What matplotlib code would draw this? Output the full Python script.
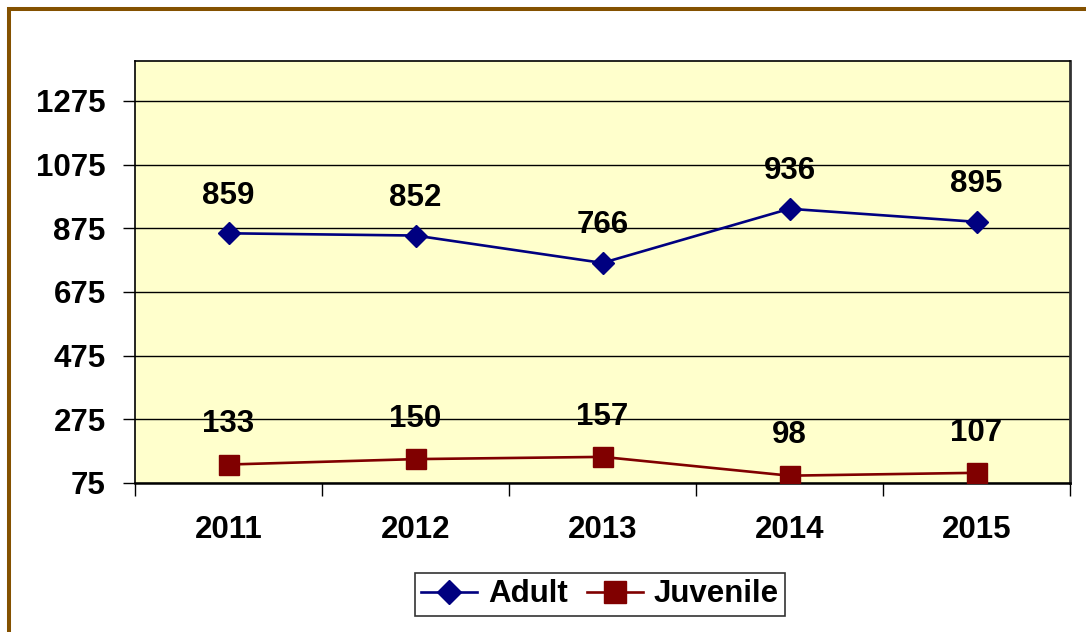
import matplotlib.pyplot as plt
from matplotlib.patches import Rectangle

years = ['2011', '2012', '2013', '2014', '2015']
adult = [859, 852, 766, 936, 895]
juvenile = [133, 150, 157, 98, 107]
yticks = [75, 275, 475, 675, 875, 1075, 1275]

plt.rcParams['font.family'] = ['Liberation Sans', 'DejaVu Sans']
plt.rcParams['font.weight'] = 'bold'

fig = plt.figure(figsize=(10.86, 6.32), dpi=100)
W, H = 1086, 632
fs = 22.5

# brown outer frame (right and bottom are cut off in the original)
fig.patches.append(Rectangle((8.5 / W, -0.5), 2, 1 + 0.5 - 8.5 / H,
                             transform=fig.transFigure, fill=False,
                             edgecolor='#845100', linewidth=2.9))

ax = fig.add_axes([135 / W, 1 - 483 / H, (1070 - 135) / W, (483 - 61) / H])
ax.set_facecolor('#FFFFCC')

x = range(len(years))
ax.plot(x, adult, color='#000080', lw=1.9, marker='D', ms=11,
        label='Adult', zorder=3)
ax.plot(x, juvenile, color='#800000', lw=1.9, marker='s', ms=14,
        label='Juvenile', zorder=3)

for i in x:
    ax.annotate(str(adult[i]), (i, adult[i]), xytext=(0, 27),
                textcoords='offset points', ha='center', va='center',
                fontsize=fs, fontweight='bold', zorder=4)
    ax.annotate(str(juvenile[i]), (i, juvenile[i]), xytext=(0, 29),
                textcoords='offset points', ha='center', va='center',
                fontsize=fs, fontweight='bold', zorder=4)

ax.set_xlim(-0.5, 4.5)
ax.set_ylim(75, 1400)
ax.set_yticks(yticks)
ax.set_yticklabels([str(v) for v in yticks], fontsize=fs, fontweight='bold')
ax.yaxis.grid(True, color='black', lw=1)
ax.set_axisbelow(True)

ax.set_xticks(list(x))
ax.set_xticklabels(years, fontsize=fs, fontweight='bold')
ax.set_xticks([i - 0.5 for i in range(len(years) + 1)], minor=True)
ax.tick_params(axis='x', which='major', length=0, pad=23)
ax.tick_params(axis='x', which='minor', length=9, width=1, color='black')
ax.tick_params(axis='y', length=9, width=1, pad=12, color='black')

for s in ['top', 'left']:
    ax.spines[s].set_linewidth(1.2)
    ax.spines[s].set_color('black')
ax.spines['bottom'].set_linewidth(1.8)
ax.spines['right'].set_color('#333333')
ax.spines['right'].set_linewidth(2)

leg = fig.legend(loc='center', bbox_to_anchor=(600 / W, 1 - 594.5 / H),
                 ncol=2, fontsize=fs, frameon=True, fancybox=False,
                 edgecolor='black', handlelength=1.8, handletextpad=0.35,
                 columnspacing=0.6, borderpad=0.2, markerscale=1.15)
leg.get_frame().set_linewidth(1.2)
for t in leg.get_texts():
    t.set_fontweight('bold')

fig.savefig('out.png', dpi=100)
